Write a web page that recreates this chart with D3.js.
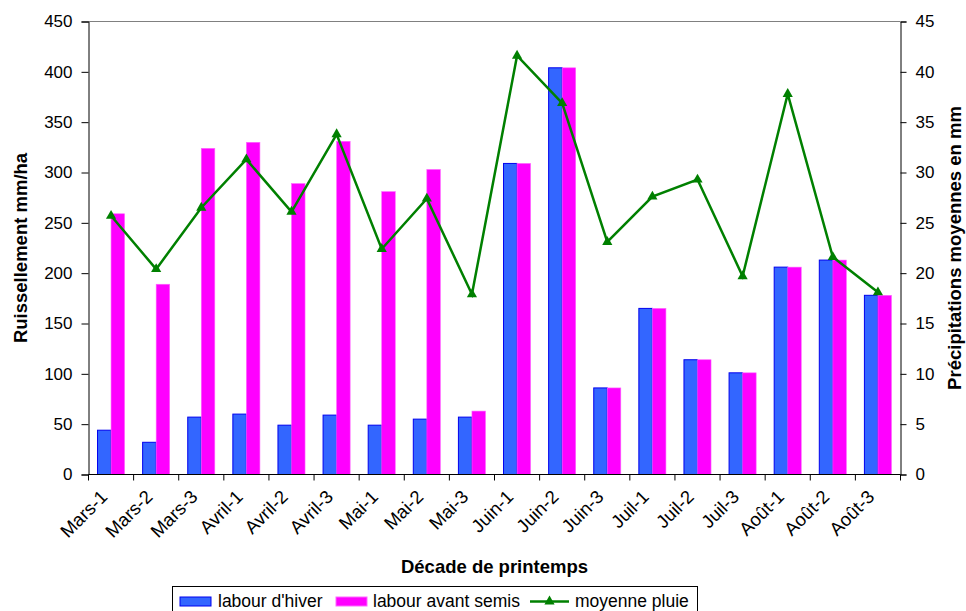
<!DOCTYPE html>
<html>
<head>
<meta charset="utf-8">
<script src="https://cdn.jsdelivr.net/npm/d3@7"></script>
<style>
  body { margin: 0; background: #fff; }
  svg text { font-family: Arial, "Liberation Sans", sans-serif; fill: #000; }
</style>
</head>
<body>
<div id="chart"></div>
<script>
// data
const decades = ["Mars-1", "Mars-2", "Mars-3", "Avril-1", "Avril-2", "Avril-3",
  "Mai-1", "Mai-2", "Mai-3", "Juin-1", "Juin-2", "Juin-3",
  "Juil-1", "Juil-2", "Juil-3", "Août-1", "Août-2", "Août-3"];
const labourHiver = [44, 32, 57, 60, 49, 59, 49, 55, 57, 309, 404, 86, 165, 114, 101, 206, 213, 178];
const labourAvantSemis = [259, 189, 324, 330, 289, 331, 281, 303, 63, 309, 404, 86, 165, 114, 101, 206, 213, 178];
const moyennePluie = [25.7, 20.4, 26.5, 31.3, 26.1, 33.8, 22.4, 27.4, 17.9, 41.6, 36.9, 23.1, 27.6, 29.3, 19.7, 37.8, 21.6, 18.1];
const leftTicks = [0, 50, 100, 150, 200, 250, 300, 350, 400, 450];
const rightTicks = [0, 5, 10, 15, 20, 25, 30, 35, 40, 45];

const width = 966, height = 611;
const margin = { left: 88.5, right: 65.5, top: 21.5, bottom: 136.5 };
const plotW = width - margin.left - margin.right;
const plotH = height - margin.top - margin.bottom;

const svg = d3.select("#chart").append("svg")
  .attr("width", width).attr("height", height);

const g = svg.append("g").attr("transform", `translate(${margin.left},${margin.top})`);

const x = d3.scaleBand().domain(decades).range([0, plotW]).paddingInner(0).paddingOuter(0);
const yL = d3.scaleLinear().domain([0, 450]).range([plotH, 0]);
const yR = d3.scaleLinear().domain([0, 45]).range([plotH, 0]);

const barW = x.bandwidth() * 0.3;

// top border of the plot area
g.append("line").attr("x1", 0).attr("x2", plotW).attr("y1", 0).attr("y2", 0)
  .attr("stroke", "#808080").attr("stroke-width", 1);

// bars
g.selectAll(".hiver").data(labourHiver).enter().append("rect")
  .attr("class", "hiver")
  .attr("x", (d, i) => x(decades[i]) + x.bandwidth() / 2 - barW)
  .attr("y", d => yL(d))
  .attr("width", barW)
  .attr("height", d => plotH - yL(d))
  .attr("fill", "#3366ff")
  .attr("stroke", "#0000ee").attr("stroke-width", 1);

g.selectAll(".semis").data(labourAvantSemis).enter().append("rect")
  .attr("class", "semis")
  .attr("x", (d, i) => x(decades[i]) + x.bandwidth() / 2)
  .attr("y", d => yL(d))
  .attr("width", barW)
  .attr("height", d => plotH - yL(d))
  .attr("fill", "#ff00ff")
  .attr("stroke", "#ff66ff").attr("stroke-width", 0.6);

// rain line
const line = d3.line()
  .x((d, i) => x(decades[i]) + x.bandwidth() / 2)
  .y(d => yR(d));

g.append("path").datum(moyennePluie)
  .attr("d", line)
  .attr("fill", "none")
  .attr("stroke", "#008000")
  .attr("stroke-width", 2.5)
  .attr("stroke-linejoin", "miter");

const tri = d3.symbol().type(d3.symbolTriangle).size(45);
g.selectAll(".mark").data(moyennePluie).enter().append("path")
  .attr("class", "mark")
  .attr("d", tri)
  .attr("transform", (d, i) => `translate(${x(decades[i]) + x.bandwidth() / 2},${yR(d)})`)
  .attr("fill", "#008000");

// left axis
const axL = g.append("g")
  .call(d3.axisLeft(yL).tickValues(leftTicks).tickSize(7).tickPadding(9));
axL.select(".domain").attr("stroke", "#000");
axL.selectAll("text").style("font-size", "17px");

// right axis
const axR = g.append("g").attr("transform", `translate(${plotW},0)`)
  .call(d3.axisRight(yR).tickValues(rightTicks).tickSize(6).tickPadding(9));
axR.selectAll("text").style("font-size", "17px");

// bottom axis: ticks between categories
const axB = g.append("g").attr("transform", `translate(0,${plotH})`);
axB.append("line").attr("x1", 0).attr("x2", plotW).attr("stroke", "#000");
axB.selectAll(".tk").data(d3.range(decades.length + 1)).enter().append("line")
  .attr("x1", i => i * x.step()).attr("x2", i => i * x.step())
  .attr("y1", 0).attr("y2", 6).attr("stroke", "#000");
axB.selectAll(".lbl").data(decades).enter().append("text")
  .attr("transform", d => `translate(${x(d) + x.bandwidth() / 2 - 7},${19}) rotate(-45)`)
  .attr("text-anchor", "end")
  .attr("dy", "0.35em")
  .style("font-size", "18.5px")
  .text(d => d);

// axis titles
svg.append("text")
  .attr("x", margin.left + plotW / 2).attr("y", 573)
  .attr("text-anchor", "middle")
  .style("font-size", "18.5px").style("font-weight", "bold")
  .text("Décade de printemps");

svg.append("text")
  .attr("transform", `translate(27,${margin.top + plotH / 2}) rotate(-90)`)
  .attr("text-anchor", "middle")
  .style("font-size", "18.5px").style("font-weight", "bold")
  .text("Ruissellement mm/ha");

svg.append("text")
  .attr("transform", `translate(961,${margin.top + plotH / 2}) rotate(-90)`)
  .attr("text-anchor", "middle")
  .style("font-size", "18.5px").style("font-weight", "bold")
  .text("Précipitations moyennes en mm");

// legend
const leg = svg.append("g");
leg.append("rect").attr("x", 172.5).attr("y", 586.5).attr("width", 525).attr("height", 32)
  .attr("fill", "#fff").attr("stroke", "#000");
leg.append("rect").attr("x", 180).attr("y", 597).attr("width", 31).attr("height", 9)
  .attr("fill", "#3366ff").attr("stroke", "#0000ee");
leg.append("text").attr("x", 218).attr("y", 607).style("font-size", "17.5px").text("labour d'hiver");
leg.append("rect").attr("x", 336).attr("y", 597).attr("width", 31).attr("height", 9)
  .attr("fill", "#ff00ff").attr("stroke", "#ff66ff");
leg.append("text").attr("x", 373).attr("y", 607).style("font-size", "17.5px").text("labour avant semis");
leg.append("line").attr("x1", 530).attr("x2", 569).attr("y1", 601.5).attr("y2", 601.5)
  .attr("stroke", "#008000").attr("stroke-width", 2.5);
leg.append("path").attr("d", tri).attr("transform", "translate(549.5,601.5)").attr("fill", "#008000");
leg.append("text").attr("x", 575).attr("y", 607).style("font-size", "17.5px").text("moyenne pluie");
</script>
</body>
</html>
